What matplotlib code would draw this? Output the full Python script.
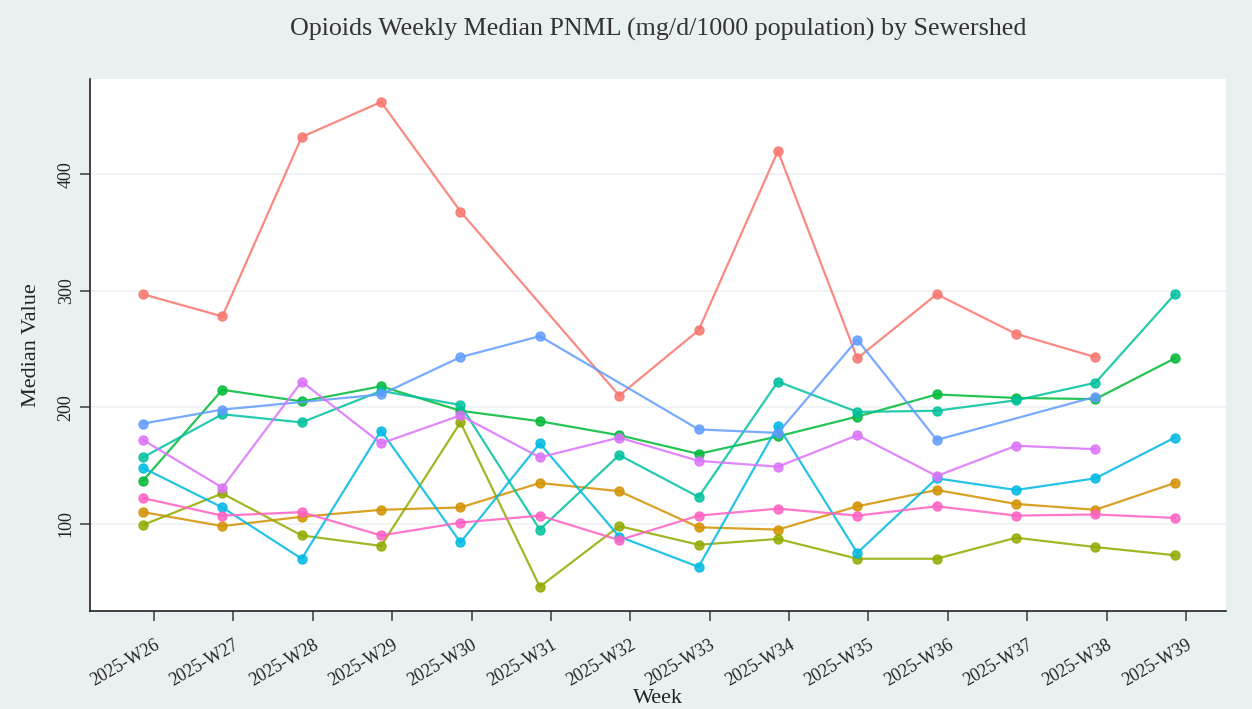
import matplotlib
matplotlib.use("Agg")
import matplotlib.pyplot as plt
import numpy as np

# weeks on the x axis
weeks = ["2025-W%d" % w for w in range(26, 40)]

# median values per sewershed, None = no sample that week
red = [297, 278, 432, 462, 368, None, 210, 266, 420, 242, 297, 263, 243, None]
mustard = [110, 98, 106, 112, 114, 135, 128, 97, 95, 115, 129, 117, 112, 135]
olive = [99, 126, 90, 81, 187, 46, 98, 82, 87, 70, 70, 88, 80, 73]
green = [137, 215, 205, 218, 197, 188, 176, 160, 175, 192, 211, 208, 207, 242]
teal = [157, 194, 187, 214, 202, 95, 159, 123, 222, 196, 197, 206, 221, 297]
cyan = [148, 114, 70, 180, 84, 169, 89, 63, 184, 75, 139, 129, 139, 174]
blue = [186, 198, None, 211, 243, 261, None, 181, 178, 258, 172, None, 209, None]
violet = [172, 131, 222, 169, 193, 157, 174, 154, 149, 176, 141, 167, 164, None]
pink = [122, 107, 110, 90, 101, 107, 86, 107, 113, 107, 115, 107, 108, 105]

series = [red, mustard, olive, green, teal, cyan, blue, violet, pink]
colors = ["#F8766D", "#D39200", "#93AA00", "#00BA38", "#00C19F",
          "#00B9E3", "#619CFF", "#DB72FB", "#FF61C3"]

plt.rcParams['font.family'] = ['Liberation Serif', 'DejaVu Serif']

fig = plt.figure(figsize=(12.52, 7.09), dpi=100, facecolor="#e9f0f2")
ax = fig.add_axes([0.0719, 0.138, 0.907, 0.751])
ax.set_facecolor("white")

x = np.arange(len(weeks))
for vals, c in zip(series, colors):
    xs = [i for i, v in enumerate(vals) if v is not None]
    ys = [v for v in vals if v is not None]
    ax.plot(xs, ys, color=c, lw=1.6, marker="o", ms=6.5, alpha=0.85, zorder=3)

# tick marks sit a bit right of the points in the original
ax.set_xticks(x + 0.14)
ax.set_xticklabels(weeks, rotation=30, ha="right", rotation_mode="anchor",
                   fontsize=13, color="#222222")
ax.set_xlim(-0.667, 13.64)
ax.set_ylim(25, 482)
ax.set_yticks([100, 200, 300, 400])
ax.set_yticklabels(["100", "200", "300", "400"], rotation=90, va="center",
                   fontsize=13, color="#222222")
ax.tick_params(axis="x", length=7, width=1.3, color="#555555", pad=11)
ax.tick_params(axis="y", length=7, width=1.3, color="#555555", pad=4)
ax.grid(axis="y", color="#eef2f3", lw=1.2)
ax.set_axisbelow(True)

for s in ["top", "right"]:
    ax.spines[s].set_visible(False)
for s in ["left", "bottom"]:
    ax.spines[s].set_color("#222222")
    ax.spines[s].set_linewidth(1.2)

ax.set_xlabel("Week", fontsize=16, color="#222222", labelpad=0)
ax.set_ylabel("Median Value", fontsize=16, color="#222222", labelpad=12)
fig.text(0.526, 0.958, "Opioids Weekly Median PNML (mg/d/1000 population) by Sewershed",
         ha="center", va="center", fontsize=18.7, color="#333333")

fig.savefig("out.png", dpi=100, facecolor=fig.get_facecolor())
